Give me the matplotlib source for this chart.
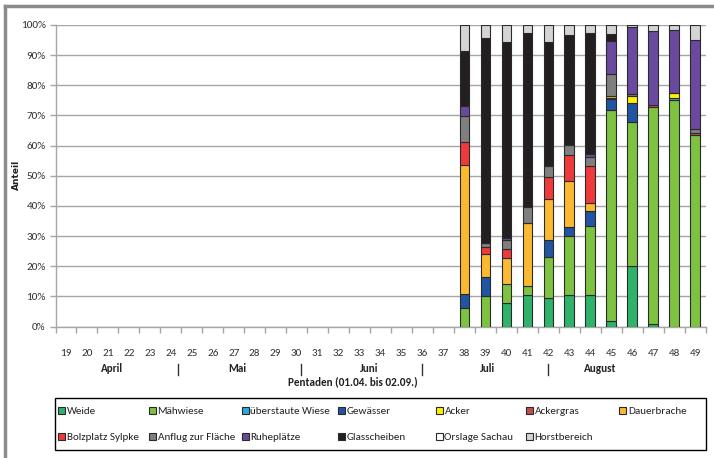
import matplotlib
matplotlib.use("Agg")
import matplotlib.pyplot as plt
from matplotlib.lines import Line2D
from matplotlib.patches import Rectangle
from matplotlib.ticker import FixedLocator, PercentFormatter

W, H = 714, 458
SANS = ["Carlito", "DejaVu Sans"]

# Pentaden 19..49, Anteile in Prozent nur für 38..49
pentaden = list(range(19, 50))
obs_pentaden = list(range(38, 50))

weide        = [0.0, 0.0, 7.9, 10.3, 9.6, 10.3, 10.3, 1.8, 20.0, 0.7, 0.0, 0.0]
maehwiese    = [6.2, 10.0, 6.1, 3.0, 13.3, 19.8, 23.0, 69.9, 47.8, 72.2, 75.1, 63.4]
ueberstaut   = [0, 0, 0, 0, 0, 0, 0, 0, 0, 0, 0.8, 0]
gewaesser    = [4.5, 6.4, 0, 0, 5.8, 2.8, 5.1, 3.9, 6.4, 0, 0, 0]
acker        = [0, 0, 0, 0, 0, 0, 0, 0.3, 2.2, 0, 1.7, 0]
ackergras    = [0, 0, 0, 0, 0, 0, 0, 0, 0, 0.5, 0, 0.8]
dauerbrache  = [42.7, 7.5, 8.7, 20.9, 13.6, 15.5, 2.5, 0.5, 0, 0, 0, 0]
bolzplatz    = [7.7, 2.5, 2.9, 0, 7.3, 8.5, 12.2, 0, 0, 0, 0, 0]
anflug       = [8.7, 1.4, 3.1, 5.4, 3.7, 3.4, 3.0, 7.3, 0.8, 0, 0, 1.4]
ruheplaetze  = [3.5, 0, 0.5, 0, 0, 0, 1.1, 11.1, 22.0, 24.6, 20.7, 29.5]
glasscheiben = [18.1, 67.8, 65.2, 57.7, 41.1, 36.4, 40.1, 2.2, 0, 0, 0, 0]
orslage      = [0] * 12
horst        = [8.6, 4.4, 5.6, 2.7, 5.6, 3.3, 2.7, 3.0, 0.8, 2.0, 1.7, 4.9]

series = [
    ("Weide", weide, "#2fb36b"),
    ("Mähwiese", maehwiese, "#7ec242"),
    ("überstaute Wiese", ueberstaut, "#2aa9e0"),
    ("Gewässer", gewaesser, "#2155a3"),
    ("Acker", acker, "#fff200"),
    ("Ackergras", ackergras, "#c0504d"),
    ("Dauerbrache", dauerbrache, "#fbb931"),
    ("Bolzplatz Sylpke", bolzplatz, "#ee3a3b"),
    ("Anflug zur Fläche", anflug, "#7f7f7f"),
    ("Ruheplätze", ruheplaetze, "#6a4a9e"),
    ("Glasscheiben", glasscheiben, "#231f20"),
    ("Orslage Sachau", orslage, "#ffffff"),
    ("Horstbereich", horst, "#d4d4d4"),
]

months = ["April", "Mai", "Juni", "Juli", "August"]
month_pos = [21.2, 27.15, 33.45, 39.1, 44.5]
month_sep = [24.35, 30.2, 36.0, 42.0]

GRID = "#a6a6a6"
EDGE = "#2a2a2a"

# Legendenraster (Pixel): Spalten-Mitte der Kästchen, Zeilenhöhe
LEG_COLS = [61.5, 152, 245, 341.5, 439, 529, 622.5]
LEG_ROWS = [410, 436.5]
LEG_BOX = (55, 398, 706, 450)


def px(x, y):
    """pixel position -> figure fraction"""
    return x / W, 1 - y / H


fig = plt.figure(figsize=(W / 100, H / 100), dpi=100)
ax = fig.add_axes([55.5 / W, 1 - 326.5 / H, 650 / W, 301.5 / H])

xs = [pentaden.index(p) for p in obs_pentaden]
bottom = [0.0] * len(xs)
for name, vals, col in series:
    for i, (x, v) in enumerate(zip(xs, vals)):
        if v > 0:
            ax.bar(x, v, width=0.45, bottom=bottom[i], color=col,
                   edgecolor=EDGE, linewidth=0.8, zorder=3)
        bottom[i] += v

ax.set_xlim(-0.5, len(pentaden) - 0.5)
ax.set_ylim(0, 100)
ax.set_yticks(range(0, 101, 10))
ax.yaxis.set_major_formatter(PercentFormatter(decimals=0))
ax.grid(axis="y", color=GRID, linewidth=1.0, zorder=0)

ax.set_xticks(range(len(pentaden)))
ax.set_xticklabels([str(p) for p in pentaden])
ax.xaxis.set_minor_locator(FixedLocator([i + 0.5 for i in range(-1, len(pentaden))]))
ax.tick_params(axis="x", which="major", length=0, pad=16)
ax.tick_params(axis="x", which="minor", length=4, color=GRID, width=1)
ax.tick_params(axis="y", length=4, color=GRID, width=1, pad=3)
for lab in ax.get_xticklabels() + ax.get_yticklabels():
    lab.set_family(SANS)
    lab.set_fontsize(8)
    lab.set_color("#333333")

for s in ("top", "right"):
    ax.spines[s].set_visible(False)
for s in ("left", "bottom"):
    ax.spines[s].set_color(GRID)
    ax.spines[s].set_linewidth(1.0)

# Monate und Trennstriche unter der Pentaden-Achse
trans = ax.get_xaxis_transform()
y_month = -(368 - 326.5) / 301.5
for m, p in zip(months, month_pos):
    ax.text(p - pentaden[0], y_month, m, transform=trans, ha="center",
            va="center", fontsize=8, fontweight="bold", family=SANS, color="#222222")
for p in month_sep:
    ax.plot([p - pentaden[0]] * 2, [-(364 - 326.5) / 301.5, -(375 - 326.5) / 301.5],
            transform=trans, color="#333333", linewidth=1, clip_on=False)

fig.text(*px(353, 382), "Pentaden (01.04. bis 02.09.)", ha="center", va="center",
         fontsize=8, fontweight="bold", family=SANS, color="#222222")
fig.text(*px(16, 175), "Anteil", rotation=90, ha="center", va="center",
         fontsize=6.5, fontweight="bold", color="#222222")

# Legende im festen Raster: erste Zeile 7 Einträge, zweite Zeile 6
bx0, by0, bx1, by1 = LEG_BOX
fig.add_artist(Rectangle(px(bx0, by1), (bx1 - bx0) / W, (by1 - by0) / H,
                         transform=fig.transFigure, facecolor="white",
                         edgecolor="#000000", linewidth=1.0))
for k, (name, _, col) in enumerate(series):
    cx = LEG_COLS[k % 7]
    cy = LEG_ROWS[k // 7]
    fig.add_artist(Rectangle(px(cx - 3.5, cy + 3.5), 7 / W, 7 / H,
                             transform=fig.transFigure, facecolor=col,
                             edgecolor=EDGE, linewidth=0.8))
    fig.text(*px(cx + 5.5, cy), name, ha="left", va="center_baseline",
             fontsize=8, family=SANS, color="#222222")

# grauer Rahmen links und oben
fig.add_artist(Line2D([5 / W, 5 / W], [0, 1 - 6 / H], transform=fig.transFigure,
                      color="#8c8c8c", linewidth=2.5))
fig.add_artist(Line2D([5 / W, 1], [1 - 6 / H, 1 - 6 / H], transform=fig.transFigure,
                      color="#8c8c8c", linewidth=2.5))

fig.savefig("out.png", dpi=100, facecolor="white")
